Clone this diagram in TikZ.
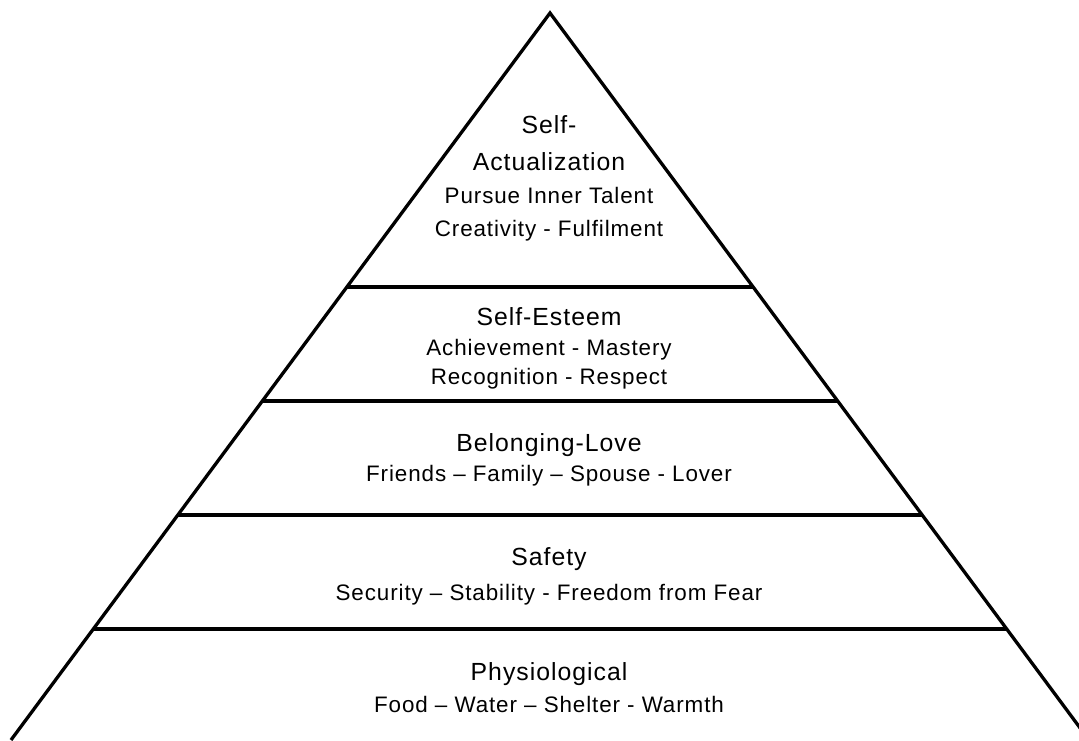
\documentclass[tikz,border=0pt]{standalone}
\usepackage{fontspec}
\setmainfont{Liberation Sans}[LetterSpace=4]
\usepackage{tikz}
\usetikzlibrary{calc}

\tikzset{
    level/.style={font=\fontsize{12.4}{15}\selectfont, anchor=base, inner sep=0pt},
    need/.style={font=\fontsize{11.2}{13}\selectfont, anchor=base, inner sep=0pt},
    wall/.style={line width=1.65pt, line join=miter}
}

\begin{document}
\begin{tikzpicture}[x=0.5pt, y=-0.5pt]
        \useasboundingbox (0,0) rectangle (1079,740);
        \coordinate (apex) at (550,13);
        \coordinate (bl) at (11,740);
        \coordinate (br) at (1089,740);

        \draw[wall] (bl) -- (apex) -- (br);
        \foreach \t in {0.3769,0.5337,0.6905,0.8473}
            \draw[wall] ($(apex)!\t!(bl)$) -- ($(apex)!\t!(br)$);

        \node[level] (self1) at (549,133) {Self-};
        \node[level] (self2) at (549,170.5) {Actualization};
        \node[need] (self3) at (549,203) {Pursue Inner Talent};
        \node[need] (self4) at (549,236) {Creativity - Fulfilment};

        \node[level] (esteem1) at (549,325) {Self-Esteem};
        \node[need] (esteem2) at (549,355) {Achievement - Mastery};
        \node[need] (esteem3) at (549,384) {Recognition - Respect};

        \node[level] (love1) at (549,451.5) {Belonging-Love};
        \node[need] (love2) at (549,481.5) {Friends – Family – Spouse - Lover};

        \node[level] (safe1) at (549,565) {Safety};
        \node[need] (safe2) at (549,600) {Security – Stability - Freedom from Fear};

        \node[level] (phys1) at (549,680) {Physiological};
        \node[need] (phys2) at (549,712) {Food – Water – Shelter - Warmth};
\end{tikzpicture}
\end{document}
